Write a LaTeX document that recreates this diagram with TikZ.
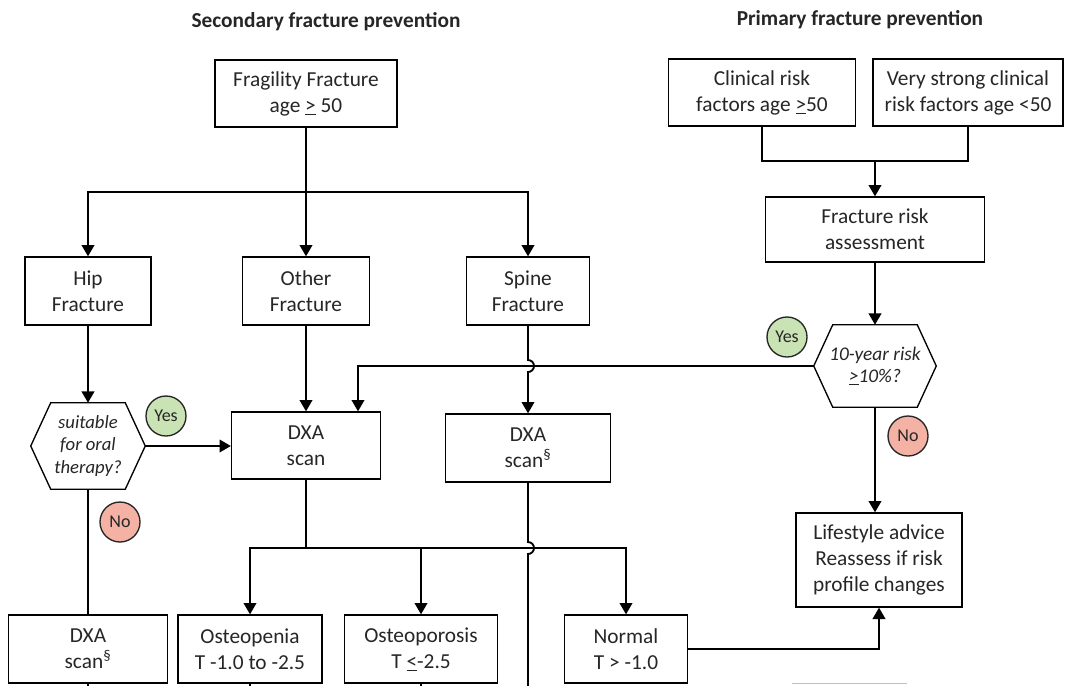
\documentclass[tikz,border=0pt]{standalone}
\usepackage{fontspec}
\setmainfont{Carlito}
\usetikzlibrary{arrows.meta,calc}
\definecolor{txt}{HTML}{262626}
\definecolor{yesg}{HTML}{C9E3B5}
\definecolor{nor}{HTML}{F4B2A4}
\begin{document}
\begin{tikzpicture}[x=0.75pt,y=0.75pt,
  box/.style={draw=black, line width=1pt, align=center, inner sep=0pt, text=txt, font=\fontsize{16}{19.5}\selectfont},
  conn/.style={line width=1.4pt},
  arr/.style={conn,-{Triangle[width=9.5pt,length=8.5pt]}},
  hexn/.style={inner sep=0pt, align=center, text=txt, font=\fontsize{14}{17}\selectfont\itshape},
  hexline/.style={line width=1pt},
  yesc/.style={circle, draw=black!85, line width=1pt, fill=yesg, minimum size=30pt, inner sep=0pt, text=txt, font=\fontsize{13.5}{15}\selectfont},
  noc/.style={yesc, fill=nor},
  ttl/.style={font=\fontsize{16}{19}\selectfont\bfseries, text=txt}]
\useasboundingbox (0,0) rectangle (1066,-685);
\fill[white] (0,0) rectangle (1066,-685);

% titles
\node[ttl] (t1) at (326,-22) {Secondary fracture prevention};
\node[ttl] (t2) at (860,-20) {Primary fracture prevention};

% boxes
\node[box, minimum width=136.5pt, minimum height=50.25pt] (Frag) at (306,-93.5) {Fragility Fracture\\age \underline{>} 50};
\node[box, minimum width=140.25pt, minimum height=50.25pt] (Clin) at (762,-92.5) {Clinical risk\\factors age \underline{>}50};
\node[box, minimum width=142.5pt, minimum height=50.25pt] (VS) at (968,-92.5) {Very strong clinical\\risk factors age <50};
\node[box, minimum width=164.25pt, minimum height=48.75pt] (FRA) at (875,-229.5) {Fracture risk\\assessment};
\node[box, minimum width=94.5pt, minimum height=51pt] (Hip) at (88,-291) {Hip\\Fracture};
\node[box, minimum width=95.25pt, minimum height=51pt] (Other) at (306,-291) {Other\\Fracture};
\node[box, minimum width=92.25pt, minimum height=51pt] (Spine) at (528,-291) {Spine\\Fracture};
\node[box, minimum width=111.75pt, minimum height=50.25pt] (DXA) at (306,-445.5) {DXA\\scan};
\node[box, minimum width=123.75pt, minimum height=51pt] (DXAs) at (528,-448) {DXA\\scan\textsuperscript{§}};
\node[box, minimum width=124.5pt, minimum height=70.5pt] (Life) at (879,-560) {Lifestyle advice\\Reassess if risk\\profile changes};
\node[box, minimum width=119.25pt, minimum height=51pt] (DXAbl) at (88,-649) {DXA\\scan\textsuperscript{§}};
\node[box, minimum width=108pt, minimum height=51pt] (Openia) at (250,-649) {Osteopenia\\T -1.0 to -2.5};
\node[box, minimum width=114.75pt, minimum height=51pt] (Oporo) at (421,-649) {Osteoporosis\\T \underline{<}-2.5};
\node[box, minimum width=92.25pt, minimum height=51pt] (Normal) at (626,-649) {Normal\\T > -1.0};

% hexagons
\node[hexn, minimum width=85.5pt, minimum height=64.5pt] (hexL) at (88,-446) {suitable\\for oral\\therapy?};
\draw[hexline] (hexL.west) -- ($(hexL.north west)+(20,0)$) -- ($(hexL.north east)+(-20,0)$) -- (hexL.east) -- ($(hexL.south east)+(-20,0)$) -- ($(hexL.south west)+(20,0)$) -- cycle;
\node[hexn, font=\fontsize{14.5}{16.5}\selectfont\itshape, minimum width=91.5pt, minimum height=61.5pt] (hexR) at (875,-366) {10-year risk\\\underline{>}10\%?};
\draw[hexline] (hexR.west) -- ($(hexR.north west)+(19,0)$) -- ($(hexR.north east)+(-19,0)$) -- (hexR.east) -- ($(hexR.south east)+(-19,0)$) -- ($(hexR.south west)+(19,0)$) -- cycle;

% yes / no
\node[yesc] (yesL) at (166,-416) {Yes};
\node[noc] (noL) at (120,-522) {No};
\node[yesc] (yesR) at (787,-337) {Yes};
\node[noc] (noR) at (908,-436) {No};

% junctions
\coordinate (j0) at (306,-192);
\coordinate (j1) at (875,-161);
\coordinate (j2) at (306,-548);
\coordinate (bot) at (0,-690);

% connectors
\draw[conn] (Frag.south) -- (j0);
\draw[arr] (j0) -| (Hip.north);
\draw[arr] (j0) -- (Other.north);
\draw[arr] (j0) -| (Spine.north);

\draw[conn] (Clin.south) |- (j1) -| (VS.south);
\draw[arr] (j1) -- (FRA.north);
\draw[arr] (FRA.south) -- (FRA.south |- hexR.north);

\draw[arr] (hexR.west) -| ($(DXA.north)+(52,0)$);
\draw[arr] (Spine.south) -- ($(Spine.south |- hexR.west)+(0,6)$) arc[start angle=90,end angle=-90,radius=4.5pt] -- (DXAs.north);

\draw[arr] (Hip.south) -- (hexL.north);
\draw[arr] (hexL.east) -- (hexL.east -| DXA.west);
\draw[conn] (hexL.south) -- (DXAbl.north);
\draw[arr] (Other.south) -- (DXA.north);

\draw[conn] (DXA.south) -- (j2);
\draw[arr] (j2) -| (Openia.north);
\draw[arr] (j2) -| (Oporo.north);
\draw[arr] (j2) -| (Normal.north);
\draw[conn] (DXAs.south) -- ($(DXAs.south |- j2)+(0,6)$) arc[start angle=90,end angle=-90,radius=4.5pt] -- (DXAs.south |- bot);

\draw[arr] (hexR.south) -- (hexR.south |- Life.north);
\draw[arr] (Normal.east) -| (Life.south);

\draw[conn] (DXAbl.south) -- (DXAbl.south |- bot);
\draw[conn] (Openia.south) -- (Openia.south |- bot);
\draw[conn] (Oporo.south) -- (Oporo.south |- bot);

\draw[black!25, line width=0.6pt] (792,-683.5) -- (907,-683.5);
\end{tikzpicture}
\end{document}
